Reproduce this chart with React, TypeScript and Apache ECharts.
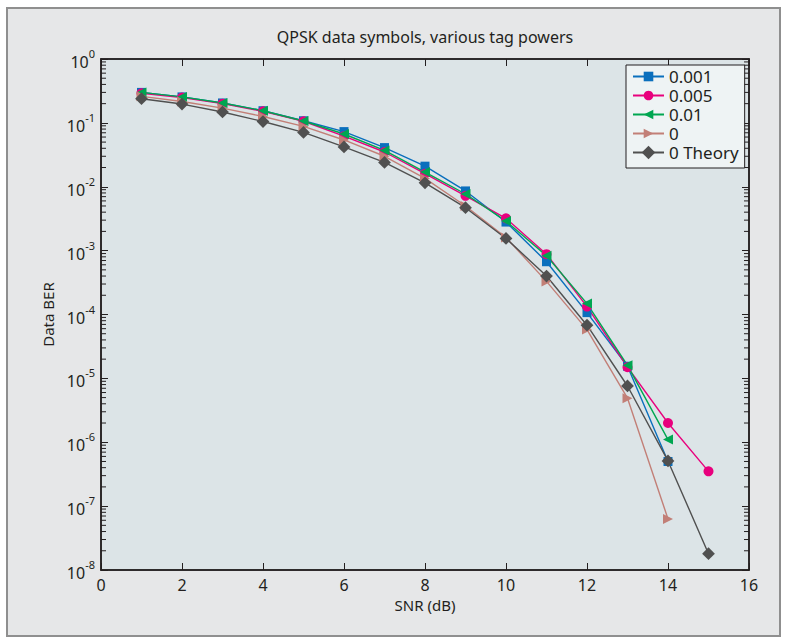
import React, { useEffect, useRef } from "react";
import * as echarts from "echarts";

const snr = [1, 2, 3, 4, 5, 6, 7, 8, 9, 10, 11, 12, 13, 14, 15];
const ber001 = [0.3, 0.255, 0.205, 0.155, 0.108, 0.073, 0.041, 0.021, 0.0086, 0.0028, 0.00067, 0.000107, 0.0000155, 5.0e-7];
const ber005 = [0.29, 0.25, 0.2, 0.152, 0.106, 0.062, 0.035, 0.016, 0.0072, 0.0032, 0.00088, 0.000133, 0.000015, 2.0e-6, 3.5e-7];
const ber01 = [0.3, 0.255, 0.205, 0.155, 0.107, 0.067, 0.037, 0.017, 0.0077, 0.0029, 0.00083, 0.000148, 0.000016, 1.1e-6];
const ber0 = [0.26, 0.216, 0.17, 0.126, 0.088, 0.054, 0.03, 0.0135, 0.005, 0.0016, 0.00033, 0.000058, 4.9e-6, 6.3e-8];
const berTheory = [0.239, 0.197, 0.148, 0.105, 0.071, 0.042, 0.024, 0.0115, 0.0047, 0.00155, 0.0004, 0.000068, 7.6e-6, 5.1e-7, 1.8e-8];

const seriesNames = ["0.001", "0.005", "0.01", "0", "0 Theory"];
const titleText = "QPSK data symbols, various tag powers";
const xName = "SNR (dB)";
const yName = "Data BER";

const FONT = "'Noto Sans', 'Open Sans', sans-serif";
const INK = "#231f20";

function pairs(vals: number[]) {
  return vals.map((v, i) => [snr[i], v]);
}

export default function App() {
  const ref = useRef<HTMLDivElement>(null);
  useEffect(() => {
    if (!ref.current) return;
    const chart = echarts.init(ref.current, undefined, { renderer: "svg" });

    const minorTicks: number[] = [];
    for (let e = -8; e < 0; e++) {
      for (let k = 2; k <= 9; k++) minorTicks.push(k * Math.pow(10, e));
    }

    const lineCommon = {
      type: "line",
      xAxisIndex: 0,
      yAxisIndex: 0,
      showSymbol: true,
      z: 3,
    };

    const option: any = {
      animation: false,
      backgroundColor: "transparent",
      textStyle: { fontFamily: FONT },
      title: {
        text: titleText,
        left: 425,
        top: 29,
        textAlign: "center",
        padding: 0,
        textStyle: { fontSize: 16, fontWeight: "normal", color: INK, fontFamily: FONT },
      },
      legend: {
        data: seriesNames,
        orient: "vertical",
        left: 626,
        top: 65,
        padding: [3, 6, 7, 6],
        itemGap: 2,
        itemWidth: 31,
        itemHeight: 12,
        backgroundColor: "#eef3f4",
        borderColor: INK,
        borderWidth: 1,
        textStyle: { fontSize: 17, lineHeight: 17, color: INK, fontFamily: FONT },
      },
      grid: {
        left: 101,
        right: 38,
        top: 59,
        bottom: 72,
        show: true,
        backgroundColor: "#dce4e7",
        borderColor: INK,
        borderWidth: 1.5,
      },
      xAxis: [
        {
          type: "value",
          min: 0,
          max: 16,
          interval: 2,
          position: "bottom",
          axisLine: { show: true, onZero: false, lineStyle: { color: INK, width: 1.5 } },
          axisTick: { show: true, inside: true, length: 7, lineStyle: { color: INK, width: 1 } },
          axisLabel: { fontSize: 16, color: INK, margin: 7, fontFamily: FONT },
          splitLine: { show: false },
          name: xName,
          nameLocation: "middle",
          nameGap: 27,
          nameTextStyle: { fontSize: 15, color: INK, fontFamily: FONT },
        },
        {
          type: "value",
          min: 0,
          max: 16,
          interval: 2,
          position: "top",
          axisLine: { show: true, onZero: false, lineStyle: { color: INK, width: 1.5 } },
          axisTick: { show: true, inside: true, length: 7, lineStyle: { color: INK, width: 1 } },
          axisLabel: { show: false },
          splitLine: { show: false },
        },
      ],
      yAxis: [
        {
          type: "log",
          logBase: 10,
          min: 1e-8,
          max: 1,
          splitNumber: 8,
          position: "left",
          axisLine: { show: true, onZero: false, lineStyle: { color: INK, width: 1.5 } },
          axisTick: { show: true, inside: true, length: 7, lineStyle: { color: INK, width: 1 } },
          axisLabel: {
            margin: 6,
            formatter: (v: number) => {
              const e = Math.round(Math.log10(v));
              return `{b|10}{s|${e}}`;
            },
            rich: {
              b: { fontSize: 16, color: INK, fontFamily: FONT, lineHeight: 22, verticalAlign: "bottom" },
              s: { fontSize: 11, color: INK, fontFamily: FONT, lineHeight: 11, verticalAlign: "top" },
            },
          },
          splitLine: { show: false },
          name: yName,
          nameLocation: "middle",
          nameGap: 46,
          nameRotate: 90,
          nameTextStyle: { fontSize: 15, color: INK, fontFamily: FONT },
        },
        {
          type: "log",
          logBase: 10,
          min: 1e-8,
          max: 1,
          splitNumber: 8,
          position: "right",
          axisLine: { show: true, onZero: false, lineStyle: { color: INK, width: 1.5 } },
          axisTick: { show: true, inside: true, length: 7, lineStyle: { color: INK, width: 1 } },
          axisLabel: { show: false },
          splitLine: { show: false },
        },
      ],
      series: [
        {
          type: "custom",
          name: "minorTicks",
          silent: true,
          xAxisIndex: 0,
          yAxisIndex: 0,
          z: 1,
          clip: false,
          data: minorTicks.map((v) => [0, v]),
          renderItem: (params: any, api: any) => {
            const v = api.value(1);
            const l = api.coord([0, v]);
            const r = api.coord([16, v]);
            const st = { stroke: INK, lineWidth: 1 };
            return {
              type: "group",
              children: [
                { type: "line", shape: { x1: l[0], y1: l[1], x2: l[0] + 5, y2: l[1] }, style: st },
                { type: "line", shape: { x1: r[0] - 5, y1: r[1], x2: r[0], y2: r[1] }, style: st },
              ],
            };
          },
        },
        {
          ...lineCommon,
          name: seriesNames[0],
          data: pairs(ber001),
          symbol: "rect",
          symbolSize: 9,
          itemStyle: { color: "#0a6fbd" },
          lineStyle: { color: "#0a6fbd", width: 1.4 },
        },
        {
          ...lineCommon,
          name: seriesNames[1],
          data: pairs(ber005),
          symbol: "circle",
          symbolSize: 10,
          itemStyle: { color: "#e8007d" },
          lineStyle: { color: "#e8007d", width: 1.4 },
        },
        {
          ...lineCommon,
          name: seriesNames[2],
          data: pairs(ber01),
          symbol: "triangle",
          symbolRotate: 90,
          symbolSize: 10,
          itemStyle: { color: "#00a651" },
          lineStyle: { color: "#00a651", width: 1.4 },
        },
        {
          ...lineCommon,
          name: seriesNames[3],
          data: pairs(ber0),
          symbol: "triangle",
          symbolRotate: -90,
          symbolSize: 10,
          itemStyle: { color: "#c27f77" },
          lineStyle: { color: "#c27f77", width: 1.4 },
        },
        {
          ...lineCommon,
          name: seriesNames[4],
          data: pairs(berTheory),
          symbol: "rect",
          symbolRotate: 45,
          symbolSize: 9,
          itemStyle: { color: "#505050" },
          lineStyle: { color: "#505050", width: 1.4 },
        },
      ],
    };
    chart.setOption(option);
    return () => chart.dispose();
  }, []);

  return (
    <div style={{ position: "fixed", left: 0, top: 0, width: 787, height: 642, background: "#ffffff" }}>
      <div
        style={{
          position: "absolute",
          left: 6,
          top: 7,
          width: 771,
          height: 626,
          background: "#e6e7e8",
          border: "2px solid #8f8f8f",
        }}
      />
      <div ref={ref} style={{ position: "absolute", left: 0, top: 0, width: 787, height: 642 }} />
    </div>
  );
}
